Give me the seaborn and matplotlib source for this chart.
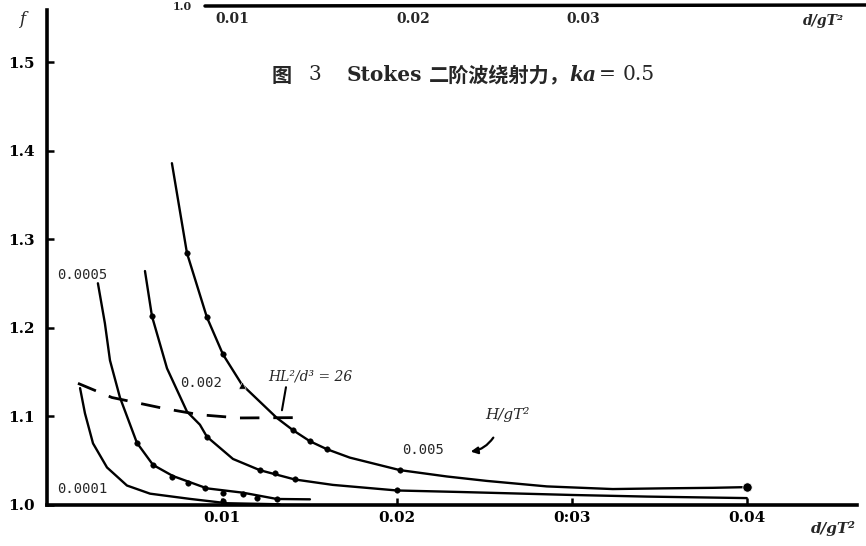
import numpy as np
import pandas as pd
import seaborn as sns
import matplotlib.pyplot as plt
from matplotlib.lines import Line2D

# ---------------- data ----------------
# H/gT^2 = 0.0001
x_0001 = [0.00189, 0.00217, 0.00263, 0.00343, 0.00457, 0.00589, 0.00817, 0.01029, 0.0133]
f_0001 = [1.132, 1.1035, 1.0696, 1.0424, 1.022, 1.0128, 1.0069, 1.0020, 1.0008]
mx_0001 = [0.01006]
mf_0001 = [1.004]

# H/gT^2 = 0.0005
x_0005 = [0.00291, 0.00331, 0.0036, 0.00417, 0.00514, 0.00606, 0.0072, 0.00914,
          0.0112, 0.01314, 0.01503]
f_0005 = [1.2504, 1.2051, 1.1633, 1.1214, 1.0702, 1.0453, 1.0327, 1.0188,
          1.0139, 1.0068, 1.0064]
mx_0005 = [0.00514, 0.00606, 0.00714, 0.00806, 0.00903, 0.01006, 0.0112, 0.012, 0.01314]
mf_0005 = [1.0702, 1.0453, 1.0315, 1.0246, 1.0188, 1.013, 1.0128, 1.0081, 1.0068]

# H/gT^2 = 0.002
x_002 = [0.0056, 0.0060, 0.00686, 0.0080, 0.00874, 0.00914, 0.01063, 0.01217, 0.01417,
         0.01634, 0.02, 0.0236, 0.03006, 0.03429, 0.04]
f_002 = [1.2642, 1.2132, 1.1543, 1.1055, 1.0907, 1.0771, 1.052, 1.0393, 1.0288,
         1.0227, 1.0164, 1.0147, 1.0113, 1.0095, 1.0078]
mx_002 = [0.0060, 0.00914, 0.01217, 0.01303, 0.01417, 0.02]
mf_002 = [1.2132, 1.0771, 1.0393, 1.036, 1.0288, 1.0164]

# H/gT^2 = 0.005
x_005 = [0.00714, 0.0080, 0.00914, 0.01006, 0.01114, 0.01314, 0.01406, 0.01503, 0.016,
         0.01731, 0.02017, 0.02286, 0.02514, 0.02857, 0.03234, 0.0352, 0.03806, 0.04]
f_005 = [1.386, 1.2845, 1.212, 1.170, 1.136, 1.0983, 1.0845, 1.072, 1.063,
         1.0535, 1.0394, 1.0322, 1.0272, 1.021, 1.018, 1.0188, 1.0194, 1.0202]
mx_005 = [0.0080, 0.00914, 0.01006, 0.01406, 0.01503, 0.016, 0.02017]
mf_005 = [1.2845, 1.212, 1.170, 1.0845, 1.072, 1.063, 1.0394]
tri_x = [0.01114]
tri_f = [1.136]
end_x = [0.04]
end_f = [1.0202]

# Ursell line HL^2/d^3 = 26
x_urs = [0.00177, 0.00371, 0.00674, 0.00874, 0.0110, 0.01446]
f_urs = [1.1374, 1.1214, 1.1088, 1.1019, 1.0983, 1.0987]

x_ticks = [0.01, 0.02, 0.03, 0.04]
x_ticklabels = ["0.01", "0.02", "0:03", "0.04"]
y_ticks = [1.0, 1.1, 1.2, 1.3, 1.4, 1.5]
y_ticklabels = ["1.0", "1.1", "1.2", "1.3", "1.4", "1.5"]

# ---------------- figure ----------------
sns.set_theme(style="white")
plt.rcParams['font.family'] = ['DejaVu Serif', 'Noto Sans CJK SC']

W, H = 866, 546
fig = plt.figure(figsize=(W / 100, H / 100), dpi=100)
fig.patch.set_facecolor("white")
ax = fig.add_axes([47 / W, 41 / H, (857 - 47) / W, (505 - 10) / H])
ax.set_facecolor("white")

curves = [(x_0001, f_0001), (x_0005, f_0005), (x_002, f_002), (x_005, f_005)]
for xs, fs in curves:
    df = pd.DataFrame({"x": xs, "f": fs})
    sns.lineplot(data=df, x="x", y="f", sort=False, estimator=None,
                 color="black", lw=1.7, ax=ax)

mk = [(mx_0001, mf_0001), (mx_0005, mf_0005), (mx_002, mf_002), (mx_005, mf_005)]
for xs, fs in mk:
    sns.scatterplot(x=xs, y=fs, color="black", s=16, edgecolor="black", ax=ax, zorder=5)
sns.scatterplot(x=tri_x, y=tri_f, marker="^", color="black", s=28, ax=ax, zorder=5)
sns.scatterplot(x=end_x, y=end_f, color="black", s=45, ax=ax, zorder=5)

dfu = pd.DataFrame({"x": x_urs, "f": f_urs})
sns.lineplot(data=dfu, x="x", y="f", sort=False, estimator=None, color="black",
             lw=2.0, ax=ax, dashes=False)
ax.lines[-1].set_dashes((7, 5))

ax.set_xlim(0, 0.0463)
ax.set_ylim(1.0, 1.559)
ax.set_xlabel("")
ax.set_ylabel("")
ax.set_xticks(x_ticks)
ax.set_xticklabels(x_ticklabels, fontweight="bold", fontsize=11)
ax.set_yticks(y_ticks)
ax.set_yticklabels(y_ticklabels, fontweight="bold", fontsize=11)
ax.tick_params(axis="both", direction="in", length=5, width=1.8, colors="black",
               bottom=True, left=True)
ax.tick_params(axis="x", pad=4)
ax.tick_params(axis="y", pad=9)
for s in ["top", "right"]:
    ax.spines[s].set_visible(False)
for s in ["left", "bottom"]:
    ax.spines[s].set_color("black")
    ax.spines[s].set_linewidth(2.6)
ax.grid(False)

# ---------------- annotations ----------------
mono = "DejaVu Sans Mono"
ax.text(0.00057, 1.0176, "0.0001", family=mono, fontsize=10, va="center", ha="left")
ax.text(0.0006, 1.2595, "0.0005", family=mono, fontsize=10, va="center", ha="left")
ax.text(0.0076, 1.1374, "0.002", family=mono, fontsize=10, va="center", ha="left")
ax.text(0.0203, 1.0617, "0.005", family=mono, fontsize=10, va="center", ha="left")
ax.text(0.01263, 1.1455, "HL²/d³ = 26", family="DejaVu Serif", style="italic",
        fontsize=10, va="center", ha="left")
ax.plot([0.01343, 0.01366], [1.107, 1.133], color="black", lw=1.5)
ax.text(0.02503, 1.1024, "H/gT²", family="DejaVu Serif", style="italic",
        fontsize=11, va="center", ha="left")
ax.annotate("", xy=(0.02406, 1.0599), xytext=(0.0256, 1.0787),
            arrowprops=dict(arrowstyle="-|>", color="black", lw=1.6,
                            connectionstyle="arc3,rad=-0.25", mutation_scale=10))

def ft(px, py, s, **kw):
    return fig.text(px / W, 1 - py / H, s, **kw)

# axis labels
ft(22, 20, "f", style="italic", fontsize=12, ha="center", va="center")
ft(833, 528, "d/gT²", style="italic", fontweight="bold", fontsize=11, ha="center", va="center")

# caption, pieces chained one after another
renderer = fig.canvas.get_renderer()
pieces = [
    ("图", dict(family=["Noto Sans CJK SC"], fontweight="bold"), 16),
    ("3", dict(family=["DejaVu Serif"]), 26),
    ("Stokes", dict(family=["DejaVu Serif"], fontweight="bold"), 6),
    ("二阶波绕射力，", dict(family=["Noto Sans CJK SC"], fontweight="bold"), 0),
    ("ka", dict(family=["DejaVu Serif"], style="italic", fontweight="bold"), 3),
    ("= ", dict(family=["DejaVu Serif"]), 0),
    ("0.5", dict(family=["DejaVu Serif"]), 0),
]
cx = 272
for txt, kw, gap in pieces:
    t = ft(cx, 75, txt, fontsize=14.5, ha="left", va="center", **kw)
    bb = t.get_window_extent(renderer)
    cx = cx + bb.width + gap

# fragment of the preceding figure at the top edge
fig.add_artist(Line2D([205 / W, 1.0], [1 - 6 / H, 1 - 5 / H], color="black", lw=2.5))
ft(182, 6, "1.0", fontweight="bold", fontsize=8, ha="center", va="center")
ft(232, 19, "0.01", fontweight="bold", fontsize=10, ha="center", va="center")
ft(413, 19, "0.02", fontweight="bold", fontsize=10, ha="center", va="center")
ft(583, 19, "0.03", fontweight="bold", fontsize=10, ha="center", va="center")
ft(823, 21, "d/gT²", style="italic", fontweight="bold", fontsize=10, ha="center", va="center")

fig.savefig("out.png", dpi=100, facecolor="white")
